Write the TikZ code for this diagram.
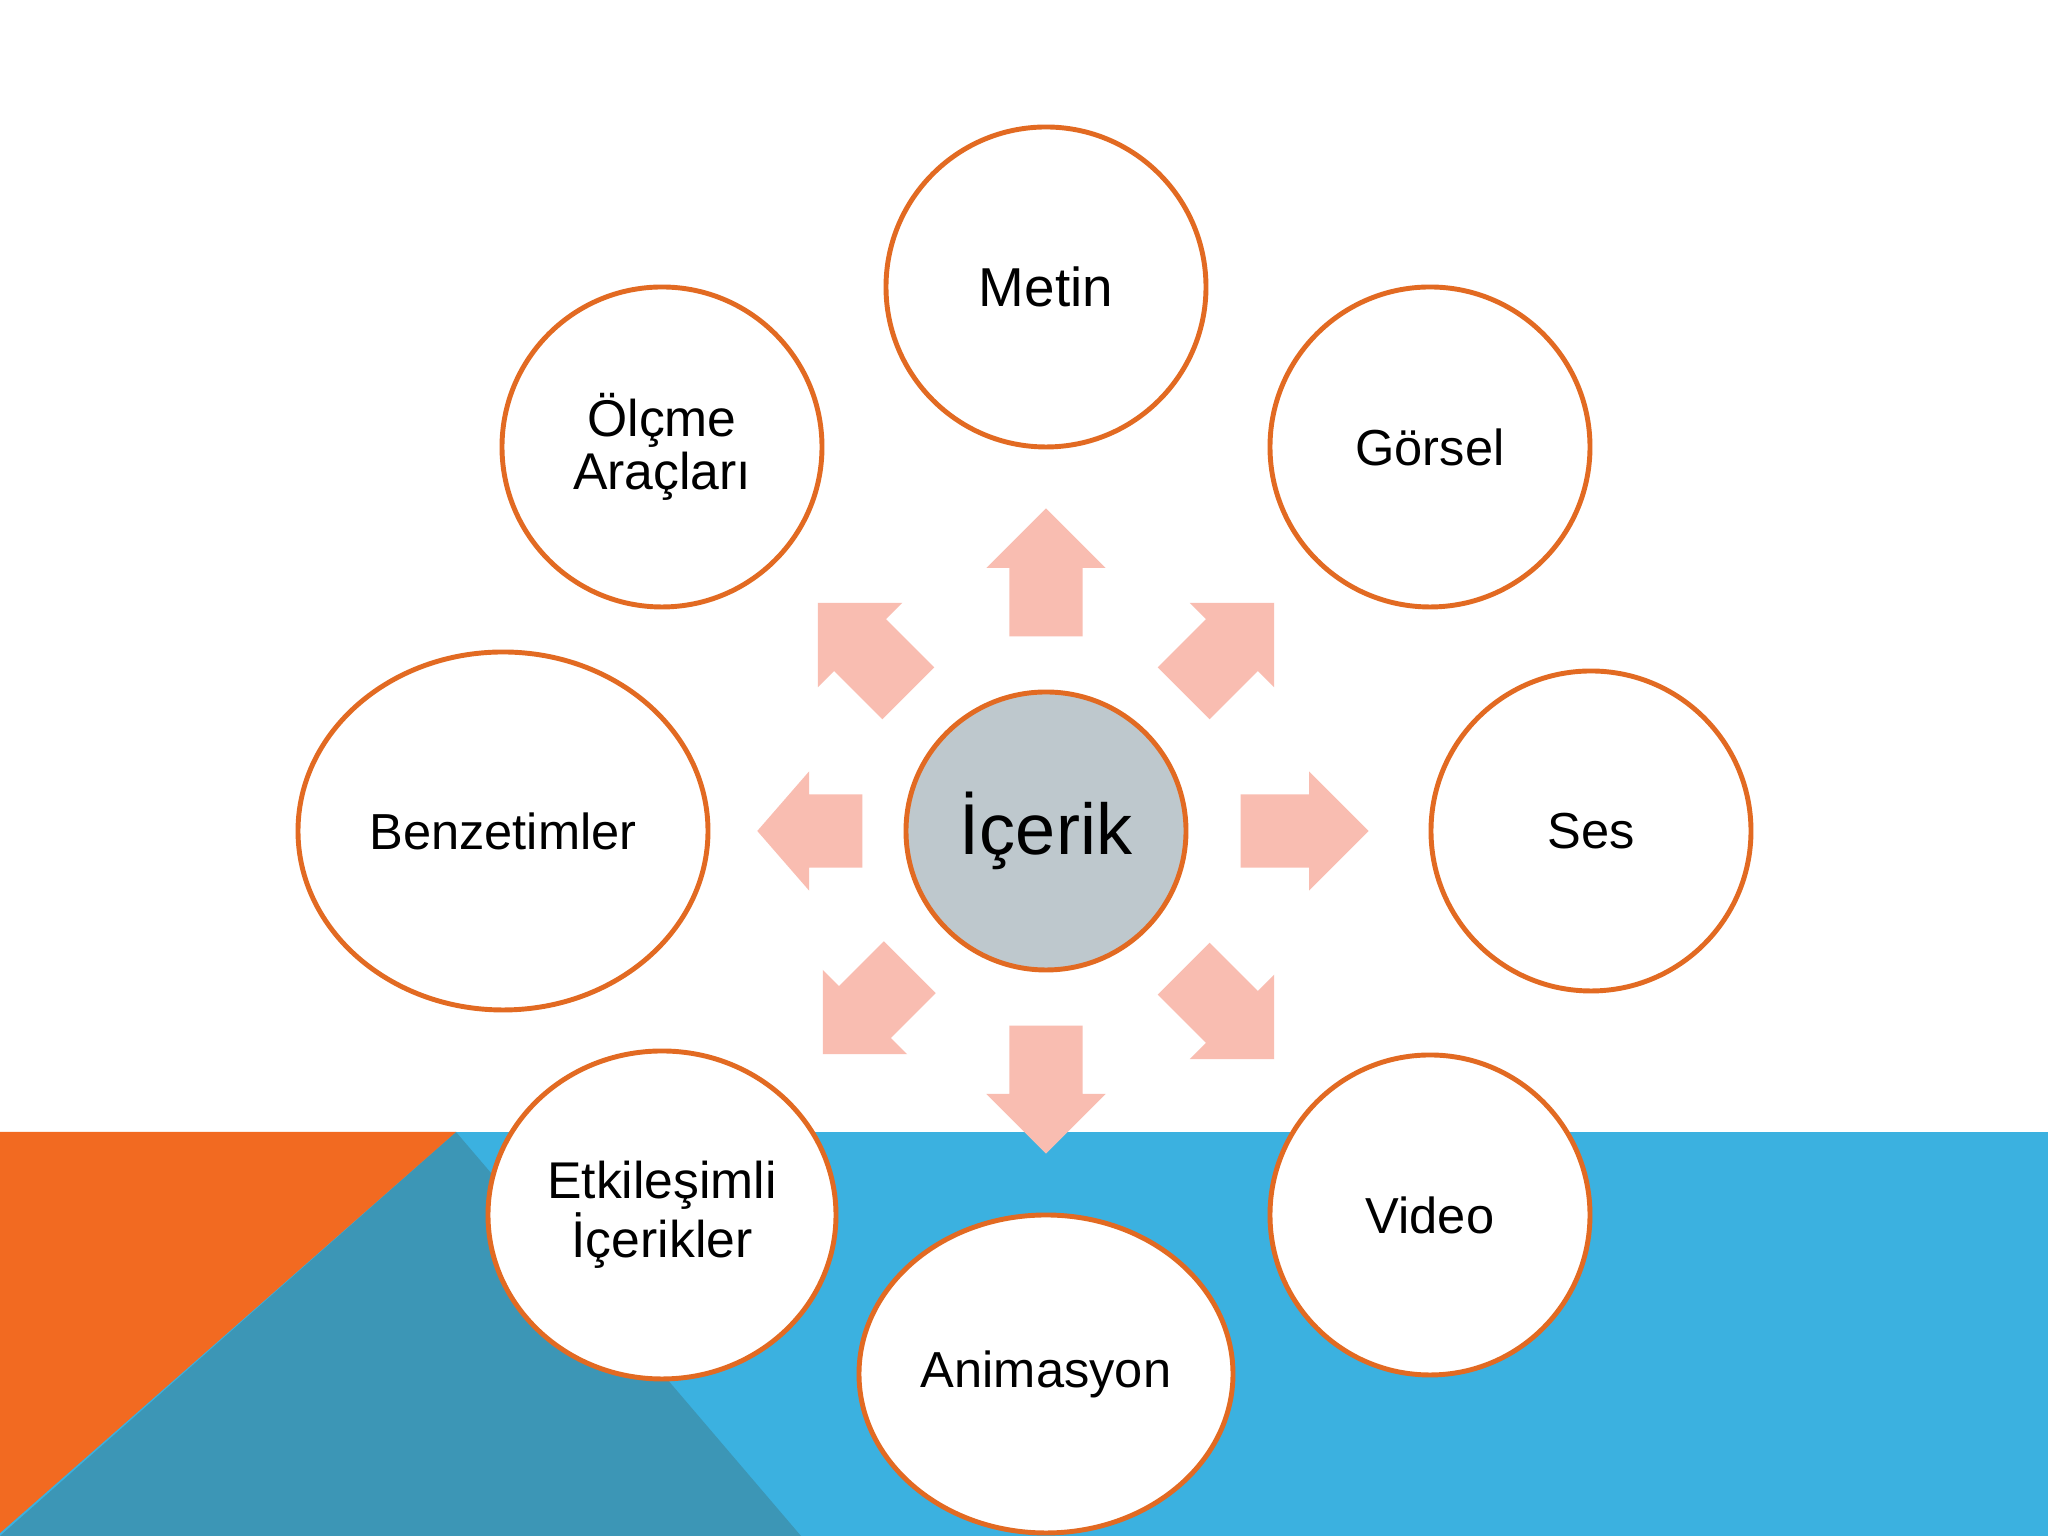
\documentclass[tikz,border=0pt]{standalone}
\usepackage{fontspec}
\setmainfont{Liberation Sans}
\usepackage{tikz}
\usetikzlibrary{calc,shapes.geometric,shapes.arrows}
\definecolor{ink}{HTML}{000000}
\definecolor{flame}{HTML}{F26A21}
\definecolor{sky}{HTML}{3BB1E0}
\definecolor{deepsky}{HTML}{3C96B6}
\definecolor{rim}{HTML}{E26A22}
\definecolor{blush}{HTML}{F9BDB1}
\definecolor{mist}{HTML}{BEC8CD}
\tikzset{
  every node/.style={text=ink},
  topic/.style={ellipse,draw=rim,line width=1.4pt,fill=white,inner sep=0pt,align=center,
    minimum width=3.2cm,minimum height=3.2cm,font=\fontsize{14.4}{17}\selectfont},
  twoline/.style={topic,font=\fontsize{14.7}{15}\selectfont},
  hub/.style={topic,fill=mist,minimum width=2.8cm,minimum height=2.78cm,font=\fontsize{20.5}{24}\selectfont},
  petal/.style={single arrow,fill=blush,draw=none,inner xsep=0pt,inner ysep=0.36cm,
    single arrow head extend=0.23cm,single arrow tip angle=90,minimum height=1.28cm,anchor=tail}
}

\begin{document}
\begin{tikzpicture}[x=1cm,y=1cm]
  \useasboundingbox (0,0) rectangle (20.48,15.36);
  % backdrop
  \fill[white] (0,0) rectangle (20.48,15.36);
  \fill[sky] (0,0) rectangle (20.48,4.04);
  \fill[deepsky] (4.56,4.04) -- (8.01,0) -- (0,0) -- cycle;
  \fill[flame] (0,4.04) -- (4.56,4.04) -- (0,0.03) -- cycle;

  \node[hub] (core) at (10.46,7.05) {İçerik};

  % arrows out of the hub
  \node[petal,rotate=90] (toN) at ($(core.center)+(90:1.94)$) {};
  \node[petal,rotate=45] (toNE) at ($(core.center)+(45:1.94)$) {};
  \node[petal,rotate=0] (toE) at ($(core.center)+(0:1.94)$) {};
  \node[petal,rotate=-45] (toSE) at ($(core.center)+(-45:1.94)$) {};
  \node[petal,rotate=-90] (toS) at ($(core.center)+(-90:1.94)$) {};
  \node[petal,rotate=-135,minimum height=1.23cm] (toSW) at ($(core.center)+(-135:1.92)$) {};
  \node[petal,rotate=180,minimum height=1.05cm,single arrow tip angle=98] (toW) at ($(core.center)+(180:1.83)$) {};
  \node[petal,rotate=135] (toNW) at ($(core.center)+(135:1.94)$) {};

  \node[topic,font=\fontsize{15.6}{18}\selectfont] (metin) at (10.46,12.49) {Metin};
  \node[topic] (gorsel) at (14.30,10.89) {Görsel};
  \node[topic] (ses) at (15.91,7.05) {Ses};
  \node[topic] (video) at (14.30,3.21) {Video};
  \node[topic,minimum width=3.74cm,minimum height=3.18cm] (anim) at (10.46,1.62) {Animasyon};
  \node[twoline,minimum width=3.48cm,minimum height=3.28cm] (etkilesim) at (6.62,3.21) {Etkileşimli\\İçerikler};
  \node[topic,minimum width=4.1cm,minimum height=3.58cm] (benzetim) at (5.03,7.05) {Benzetimler};
  \node[twoline] (olcme) at (6.62,10.89) {Ölçme\\Araçları};
\end{tikzpicture}
\end{document}
